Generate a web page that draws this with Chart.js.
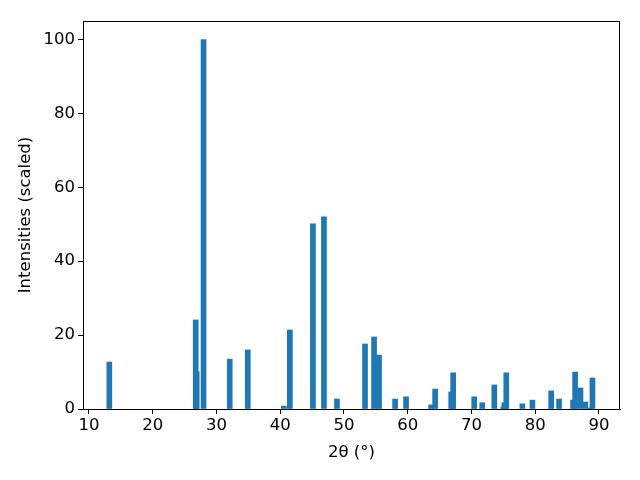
<!DOCTYPE html>
<html>
<head>
<meta charset="utf-8">
<script src="https://cdn.jsdelivr.net/npm/chart.js@4/dist/chart.umd.min.js"></script>
<style>
    html, body { margin: 0; padding: 0; background: #fff; }
    #wrap { width: 640px; height: 480px; }
</style>
</head>
<body>
<div id="wrap"><canvas id="xrdChart" width="640" height="480"></canvas></div>
<script>
// Peak positions (2theta, degrees) and scaled intensities
const twoTheta = [13.19, 26.74, 26.9, 27.97, 32.08, 34.91, 40.57, 41.51, 45.13, 46.86,
    48.9, 53.3, 54.72, 55.5, 58.02, 59.74, 63.67, 64.3, 66.82, 67.13,
    70.43, 71.69, 73.58, 74.99, 75.15, 75.46, 77.99, 79.56, 82.5, 83.74,
    85.94, 86.26, 87.1, 87.85, 88.5, 88.98];
const intensities = [12.7, 24.1, 10.1, 100, 13.5, 16.0, 0.8, 21.4, 50.1, 52.0,
    2.7, 17.6, 19.5, 14.6, 2.7, 3.3, 1.1, 5.4, 4.6, 9.8,
    3.3, 1.7, 6.5, 0.5, 1.7, 9.8, 1.4, 2.4, 4.9, 2.7,
    2.4, 10.0, 5.7, 1.9, 0.3, 8.4];
const xTicks = [10, 20, 30, 40, 50, 60, 70, 80, 90];
const yTicks = [0, 20, 40, 60, 80, 100];

const FONT = 'DejaVu Sans';

// Draw the full box round the plot area (top and right sides)
const frameBox = {
    id: 'frameBox',
    afterDatasetsDraw(chart) {
        const a = chart.chartArea;
        const c = chart.ctx;
        c.save();
        c.strokeStyle = '#000';
        c.lineWidth = 1;
        c.strokeRect(a.left + 0.5, a.top + 0.5, a.right - a.left - 1, a.bottom - a.top);
        c.restore();
    }
};

function buildChart() {
    const ctx = document.getElementById('xrdChart');
    const points = twoTheta.map((x, i) => ({ x: x, y: intensities[i] }));

    new Chart(ctx, {
        type: 'bar',
        data: {
            datasets: [{
                data: points,
                backgroundColor: '#1f77b4',
                borderWidth: 0,
                barThickness: 5
            }]
        },
        options: {
            responsive: false,
            animation: false,
            layout: { padding: { top: 21, right: 20, left: 16, bottom: 17 } },
            plugins: {
                legend: { display: false },
                tooltip: { enabled: false }
            },
            scales: {
                x: {
                    type: 'linear',
                    min: 9.06,
                    max: 93.3,
                    offset: false,
                    afterBuildTicks: (s) => { s.ticks = xTicks.map(v => ({ value: v })); },
                    afterFit: (s) => { s.height = 54; },
                    grid: { display: true, offset: false, drawOnChartArea: false, color: '#000', tickLength: 5 },
                    border: { display: true, color: '#000' },
                    ticks: { color: '#000', font: { family: FONT, size: 16.5 }, padding: 2, maxRotation: 0 },
                    title: { display: true, text: '2θ (°)', color: '#000', font: { family: FONT, size: 16.5 }, padding: { top: 2, bottom: 0 } }
                },
                y: {
                    min: 0,
                    max: 105,
                    afterBuildTicks: (s) => { s.ticks = yTicks.map(v => ({ value: v })); },
                    afterFit: (s) => { s.width = 67; },
                    grid: { display: true, drawOnChartArea: false, color: '#000', tickLength: 5 },
                    border: { display: true, color: '#000' },
                    ticks: { color: '#000', font: { family: FONT, size: 16.5 }, padding: 3 },
                    title: { display: true, text: 'Intensities (scaled)', color: '#000', font: { family: FONT, size: 16.5 }, padding: { top: 0, bottom: 0 } }
                }
            }
        },
        plugins: [frameBox]
    });
}

buildChart();
</script>
</body>
</html>
